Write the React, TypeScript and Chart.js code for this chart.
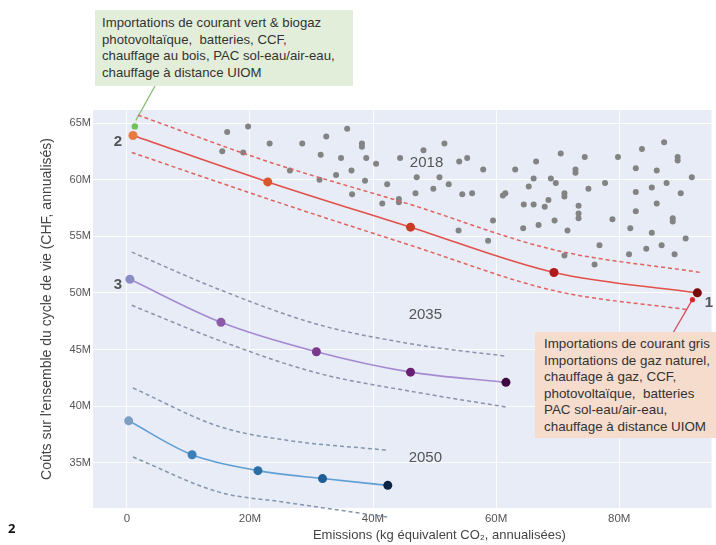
import React, { useEffect, useRef } from 'react';
import { Chart, registerables } from 'chart.js';

Chart.register(...registerables);

// ---------- data (millions) ----------
const xTicks = [0, 20, 40, 60, 80];
const yTicks = [35, 40, 45, 50, 55, 60, 65];

// 2018 scenario cloud
const grayX = [
  19.7, 16.3, 35.8, 23.2, 28.5, 32.4, 38.2, 38.2, 15.5, 18.9,
  31.5, 34.8, 38.9, 26.5, 34.0, 36.5, 31.3, 38.7, 36.6, 40.5,
  44.4, 48.2, 51.6, 54.0, 55.3, 57.9, 63.1, 66.5, 42.3, 47.1,
  49.8, 50.8, 52.3, 54.5, 56.1, 61.5, 61.1, 66.1, 65.3, 46.9,
  41.5, 44.2, 44.2, 59.5, 64.5, 66.1, 53.9, 58.7, 64.4, 70.5,
  74.4, 72.9, 72.9, 79.8, 83.7, 87.3, 89.5, 89.5, 82.7, 86.1,
  91.8, 68.9, 69.7, 75.0, 77.7, 82.7, 85.3, 87.7, 90.0, 67.9,
  68.5, 71.1, 71.1, 73.4, 73.4, 73.4, 78.9, 82.7, 86.1, 88.7,
  88.7, 66.9, 69.5, 71.6, 81.8, 85.3, 90.8, 76.8, 81.6, 84.4,
  86.9, 89.0, 76.0, 71.1,
];
const grayY = [
  64.7, 64.2, 64.5, 63.2, 63.2, 63.8, 63.2, 62.9, 62.5, 62.4,
  62.2, 61.9, 61.9, 60.8, 60.4, 60.8, 60.0, 59.9, 58.7, 61.4,
  61.9, 62.6, 63.2, 61.6, 61.9, 60.9, 60.9, 61.6, 59.6, 60.2,
  59.2, 60.2, 59.6, 58.7, 58.8, 58.8, 58.6, 60.1, 59.4, 58.8,
  57.9, 58.3, 58.0, 56.4, 57.8, 57.8, 55.5, 54.6, 55.7, 62.3,
  62.0, 60.9, 60.6, 62.0, 62.7, 63.3, 62.0, 61.7, 61.0, 60.8,
  60.2, 60.1, 59.7, 59.2, 59.7, 58.9, 59.3, 59.7, 58.8, 57.6,
  58.2, 58.8, 58.5, 57.7, 57.0, 56.6, 56.5, 57.2, 57.9, 56.6,
  56.3, 56.0, 56.4, 55.5, 55.7, 55.3, 54.8, 54.2, 53.4, 53.9,
  54.2, 53.4, 52.5, 53.3,
];

// 2018 front
const f2018X = [1.0, 22.9, 46.1, 69.4, 92.7];
const f2018Y = [63.9, 59.8, 55.8, 51.8, 50.0];
const f2018UpX = [1.8, 22.9, 46.1, 69.4, 93.2];
const f2018UpY = [65.7, 61.6, 57.8, 53.8, 51.8];
const f2018LoX = [0.8, 22.9, 46.1, 69.4, 91.3];
const f2018LoY = [62.4, 58.3, 54.2, 50.2, 48.5];

// 2035 front
const f2035X = [0.5, 15.3, 30.8, 46.1, 61.6];
const f2035Y = [51.2, 47.4, 44.8, 43.0, 42.1];
const f2035UpX = [0.8, 15.0, 31.1, 47.3, 61.8];
const f2035UpY = [53.6, 50.3, 47.2, 45.4, 44.4];
const f2035LoX = [0.8, 15.0, 31.1, 47.3, 61.8];
const f2035LoY = [48.9, 45.8, 42.9, 41.2, 39.9];

// 2050 front
const f2050X = [0.3, 10.6, 21.3, 31.8, 42.4];
const f2050Y = [38.7, 35.7, 34.3, 33.6, 33.0];
const f2050UpX = [1.0, 15.0, 25.8, 42.4];
const f2050UpY = [41.6, 38.2, 37.0, 36.1];
const f2050LoX = [1.0, 15.0, 25.8, 42.4];
const f2050LoY = [35.5, 32.4, 31.5, 30.2];

// highlighted configurations
const greenPtX = [1.3];
const greenPtY = [64.7];
const redPtX = [91.9];
const redPtY = [49.4];

// text labels anchored in data space
const yearLabels = ['2018', '2035', '2050'];
const yearLabelX = [48.7, 48.5, 48.5];
const yearLabelY = [61.5, 48.1, 35.4];
const endLabels = ['2', '3', '1'];
const endLabelX = [-1.45, -1.45, 94.6];
const endLabelY = [63.3, 50.7, 49.1];

const greenBoxLines = [
  'Importations de courant vert & biogaz',
  'photovoltaïque,  batteries, CCF,',
  'chauffage au bois, PAC sol-eau/air-eau,',
  'chauffage à distance UIOM',
];
const redBoxLines = [
  'Importations de courant gris',
  'Importations de gaz naturel,',
  'chauffage à gaz, CCF,',
  'photovoltaïque,  batteries',
  'PAC sol-eau/air-eau,',
  'chauffage à distance UIOM',
];

const yTitle = "Coûts sur l'ensemble du cycle de vie (CHF, annualisés)";
const xTitle = 'Emissions (kg équivalent CO₂, annualisées)';

// ---------- styles ----------
const FONT = '"Liberation Sans", Arial, sans-serif';
const c2018 = ['#e9793f', '#d9552c', '#c73c22', '#b11a1a', '#7a0808'];
const c2035 = ['#8a8cc4', '#8a5aa8', '#7a3a8c', '#6a1f72', '#3c0a40'];
const c2050 = ['#7d9fc2', '#3b7fb8', '#2b6ea6', '#1f5d96', '#0c2446'];

const pts = (xs: number[], ys: number[]) => xs.map((x, i) => ({ x, y: ys[i] }));

export default function App() {
  const ref = useRef<HTMLCanvasElement | null>(null);

  useEffect(() => {
    if (!ref.current) return;

    const mainLine = (xs: number[], ys: number[], line: string, colors: string[]) => ({
      data: pts(xs, ys),
      showLine: true,
      borderColor: line,
      borderWidth: 1.6,
      pointRadius: 4.5,
      pointBackgroundColor: colors,
      pointBorderWidth: 0,
      cubicInterpolationMode: 'monotone',
      fill: false,
      order: 1,
    });
    const dashLine = (xs: number[], ys: number[], color: string, clip?: boolean) => ({
      data: pts(xs, ys),
      showLine: true,
      borderColor: color,
      borderWidth: 1.5,
      borderDash: [4, 3],
      pointRadius: 0,
      cubicInterpolationMode: 'monotone',
      fill: false,
      order: 2,
      ...(clip === false ? { clip: false } : {}),
    });

    const bgPlugin = {
      id: 'bgFill',
      beforeDraw(chart: any) {
        const { ctx, chartArea } = chart;
        ctx.save();
        ctx.fillStyle = '#e7ecf6';
        ctx.fillRect(chartArea.left, chartArea.top, chartArea.right - chartArea.left, chartArea.bottom - chartArea.top);
        ctx.restore();
      },
    };

    const connectorPlugin = {
      id: 'connectors',
      beforeDatasetsDraw(chart: any) {
        const { ctx, scales } = chart;
        const gx = scales.x.getPixelForValue(greenPtX[0]);
        const gy = scales.y.getPixelForValue(greenPtY[0]);
        const rx = scales.x.getPixelForValue(redPtX[0]);
        const ry = scales.y.getPixelForValue(redPtY[0]);
        ctx.save();
        ctx.lineWidth = 1.3;
        ctx.strokeStyle = '#86c274';
        ctx.beginPath();
        ctx.moveTo(155, 86);
        ctx.lineTo(gx + 1, gy - 6);
        ctx.stroke();
        ctx.strokeStyle = '#d9475a';
        ctx.beginPath();
        ctx.moveTo(673, 333);
        ctx.lineTo(rx, ry);
        ctx.stroke();
        ctx.restore();
      },
    };

    const textPlugin = {
      id: 'texts',
      afterDatasetsDraw(chart: any) {
        const { ctx, scales, chartArea } = chart;
        ctx.save();
        ctx.fillStyle = '#555';
        ctx.textAlign = 'center';
        ctx.textBaseline = 'middle';
        ctx.font = `15px ${FONT}`;
        yearLabels.forEach((t, i) => {
          ctx.fillText(t, scales.x.getPixelForValue(yearLabelX[i]), scales.y.getPixelForValue(yearLabelY[i]));
        });
        ctx.font = `bold 15px ${FONT}`;
        endLabels.forEach((t, i) => {
          ctx.fillText(t, scales.x.getPixelForValue(endLabelX[i]), scales.y.getPixelForValue(endLabelY[i]));
        });
        // axis titles
        ctx.fillStyle = '#444';
        ctx.font = `13px ${FONT}`;
        ctx.fillText(xTitle, chartArea.left + (chartArea.right - chartArea.left) * 0.56, 535);
        ctx.translate(47, (chartArea.top + chartArea.bottom) / 2);
        ctx.rotate(-Math.PI / 2);
        ctx.font = `14px ${FONT}`;
        ctx.fillText(yTitle, 0, 0);
        ctx.restore();
      },
    };

    const chart = new Chart(ref.current, {
      type: 'scatter',
      data: {
        datasets: [
          mainLine(f2018X, f2018Y, '#e2504a', c2018),
          mainLine(f2035X, f2035Y, '#a58ad2', c2035),
          mainLine(f2050X, f2050Y, '#5f9fd4', c2050),
          { data: pts(greenPtX, greenPtY), pointRadius: 3.2, pointBackgroundColor: '#72bf5e', pointBorderWidth: 0, order: 0 },
          { data: pts(redPtX, redPtY), pointRadius: 2.6, pointBackgroundColor: '#d22a2a', pointBorderWidth: 0, order: 0 },
          dashLine(f2018UpX, f2018UpY, '#e0625e'),
          dashLine(f2018LoX, f2018LoY, '#e0625e'),
          dashLine(f2035UpX, f2035UpY, '#8c92aa'),
          dashLine(f2035LoX, f2035LoY, '#8c92aa'),
          dashLine(f2050UpX, f2050UpY, '#8495ae'),
          dashLine(f2050LoX, f2050LoY, '#8495ae', false),
          { data: pts(grayX, grayY), pointRadius: 3, pointBackgroundColor: '#838383', pointBorderWidth: 0, order: 3 },
        ] as any,
      },
      options: {
        animation: false,
        responsive: false,
        events: [],
        layout: { padding: { top: 110, right: 0, left: 0, bottom: 0 } },
        plugins: { legend: { display: false }, tooltip: { enabled: false } },
        scales: {
          x: {
            type: 'linear',
            min: -5.5,
            max: 95,
            afterBuildTicks: (a: any) => { a.ticks = xTicks.map((v) => ({ value: v })); },
            afterFit: (a: any) => { a.height = 37; },
            grid: { color: 'rgba(255,255,255,0.9)', lineWidth: 1, drawTicks: false },
            border: { display: false },
            ticks: {
              padding: 4,
              color: '#555',
              autoSkip: false,
              maxRotation: 0,
              font: { family: FONT, size: 11.5 },
              callback: (v: any) => (v === 0 ? '0' : `${v}M`),
            },
          },
          y: {
            type: 'linear',
            min: 31,
            max: 66.15,
            afterBuildTicks: (a: any) => { a.ticks = yTicks.map((v) => ({ value: v })); },
            afterFit: (a: any) => { a.width = 93; },
            grid: { color: 'rgba(255,255,255,0.9)', lineWidth: 1, drawTicks: false },
            border: { display: false },
            ticks: {
              padding: 2,
              color: '#555',
              font: { family: FONT, size: 11 },
              callback: (v: any) => `${v}M`,
            },
          },
        },
      } as any,
      plugins: [bgPlugin, connectorPlugin, textPlugin],
    });
    return () => chart.destroy();
  }, []);

  const boxText: React.CSSProperties = {
    fontFamily: FONT,
    lineHeight: '16.5px',
    color: '#333',
    whiteSpace: 'pre',
  };

  return (
    <div style={{ position: 'absolute', left: 0, top: 0, width: 716, height: 545, background: '#fff', overflow: 'hidden' }}>
      <canvas ref={ref} width={716} height={545} style={{ position: 'absolute', left: 0, top: 0 }} />
      <div style={{ position: 'absolute', left: 95, top: 10, width: 258, height: 76, background: '#e2eeda', padding: '5px 0 0 7px', boxSizing: 'border-box', fontSize: 13.2, ...boxText }}>
        {greenBoxLines.join('\n')}
      </div>
      <div style={{ position: 'absolute', left: 535, top: 332, width: 181, height: 106, background: '#f6dccc', padding: '4px 0 0 9px', boxSizing: 'border-box', fontSize: 13.4, ...boxText }}>
        {redBoxLines.join('\n')}
      </div>
      <div style={{ position: 'absolute', left: 8, top: 519, fontFamily: '"Open Sans", sans-serif', fontWeight: 700, fontSize: 13, color: '#111' }}>2</div>
    </div>
  );
}
